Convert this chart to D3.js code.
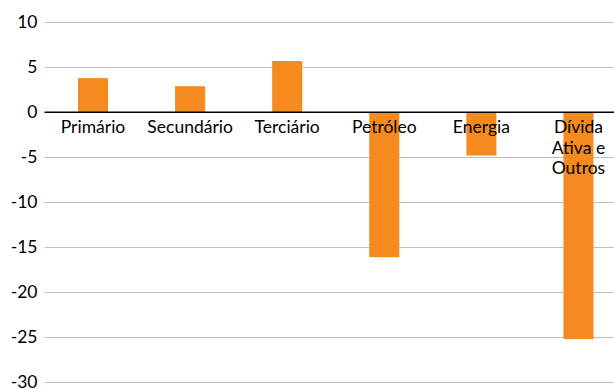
<!DOCTYPE html>
<html><head><meta charset="utf-8">
<script src="https://cdn.jsdelivr.net/npm/d3@7"></script>
<style>body{margin:0;background:#fff}svg{display:block}text{font-family:Lato,"Open Sans",sans-serif;fill:#000}</style>
</head><body>
<svg id="c" width="614" height="389"></svg>
<script>
const categories = ["Primário","Secundário","Terciário","Petróleo","Energia","Dívida Ativa e Outros"];
const values = [3.8, 2.9, 5.7, -16.1, -4.8, -25.2];
const tickValues = [10,5,0,-5,-10,-15,-20,-25,-30];
const labelLines = [["Primário"],["Secundário"],["Terciário"],["Petróleo"],["Energia"],["Dívida","Ativa e","Outros"]];

const svg = d3.select("#c");
const x = d3.scaleBand().domain(categories).range([44.5, 627]).paddingInner(0.69).paddingOuter(0.345);
const y = d3.scaleLinear().domain([-30,10]).range([382.3,22.3]);

// grid
svg.append("g").selectAll("line").data(tickValues.filter(d=>d!==0)).join("line")
  .attr("x1",44.5).attr("x2",614).attr("y1",d=>Math.round(y(d))+0.5).attr("y2",d=>Math.round(y(d))+0.5)
  .attr("stroke","#bfbfbf").attr("stroke-width",1);

// y axis labels
const ay = d3.axisLeft(y).tickValues(tickValues).tickSize(0).tickPadding(7).tickFormat(d=>String(d));
const gy = svg.append("g").attr("transform","translate(44.5,0)").call(ay);
gy.select(".domain").remove();
gy.selectAll("text").style("font-size","17.5px").attr("font-family",null);

// bars
svg.append("g").selectAll("rect").data(values).join("rect")
  .attr("x",(d,i)=>x(categories[i]))
  .attr("width",x.bandwidth())
  .attr("y",d=>y(Math.max(0,d)))
  .attr("height",d=>Math.abs(y(d)-y(0)))
  .attr("fill","#f58b1f");

// zero line
svg.append("line").attr("x1",44.5).attr("x2",614).attr("y1",y(0)).attr("y2",y(0))
  .attr("stroke","#000").attr("stroke-width",1.5);

// category labels
const gl = svg.append("g");
labelLines.forEach((lines,i)=>{
  const cx = x(categories[i]) + x.bandwidth()/2;
  const t = gl.append("text").attr("text-anchor","middle").attr("x",cx).attr("y",y(0)+21).style("font-size","17.5px");
  lines.forEach((l,j)=>t.append("tspan").attr("x",cx).attr("dy",j===0?0:20.5).text(l));
});
</script>
</body></html>
